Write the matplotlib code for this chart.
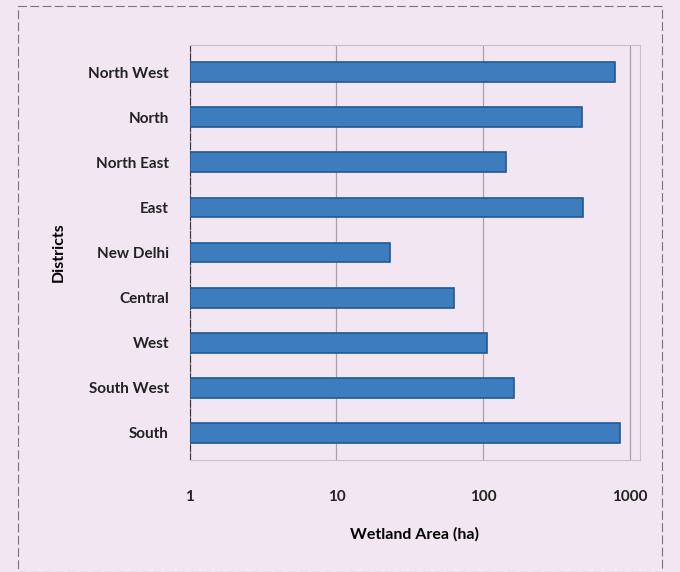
import numpy as np
import matplotlib.pyplot as plt
from matplotlib.patches import Rectangle

districts = ['North West', 'North', 'North East', 'East', 'New Delhi',
             'Central', 'West', 'South West', 'South']
area_ha = [790, 470, 143, 480, 22, 62, 105, 162, 850]
xticks = [1, 10, 100, 1000]

plt.rcParams['font.family'] = ['Lato', 'DejaVu Sans']

fig = plt.figure(figsize=(6.8, 5.72), dpi=100)
fig.patch.set_facecolor('#f2e6f3')
ax = fig.add_axes([0.279, 0.196, 0.662, 0.725])
ax.set_facecolor('#f2e6f3')

y = np.arange(len(districts))[::-1]
ax.barh(y, area_ha, left=1, height=0.44, color='#3e7dbd',
        edgecolor='#1f5a96', linewidth=1.2, zorder=3)

ax.set_xscale('log')
ax.set_xlim(1, 1170)
ax.set_ylim(-0.6, len(districts) - 0.4)
ax.set_xticks(xticks)
ax.set_xticklabels([str(t) for t in xticks])
ax.minorticks_off()
ax.set_yticks(y)
ax.set_yticklabels(districts)
ax.tick_params(axis='y', length=0, pad=15, labelsize=11)
ax.tick_params(axis='x', length=0, pad=22, labelsize=11)
for lab in ax.get_xticklabels() + ax.get_yticklabels():
    lab.set_fontweight('bold')
    lab.set_color('#222222')

ax.grid(axis='x', color='#a9a0ab', linewidth=0.9, zorder=0)
for s in ['top', 'right']:
    ax.spines[s].set_color('#c8c0ca')
ax.spines['left'].set_color('#333333')
ax.spines['left'].set_linestyle((0, (6, 2)))
ax.spines['bottom'].set_color('#c8c0ca')

ax.set_xlabel('Wetland Area (ha)', fontsize=11.5, fontweight='bold', labelpad=16)
ax.set_ylabel('Districts', fontsize=11.5, fontweight='bold', labelpad=16)

fig.add_artist(Rectangle((0.027, 0.0), 0.947, 0.99, transform=fig.transFigure,
                         fill=False, edgecolor='#777777', linewidth=0.8,
                         linestyle=(0, (8, 3))))

fig.savefig('out.png', dpi=100, facecolor=fig.get_facecolor())
